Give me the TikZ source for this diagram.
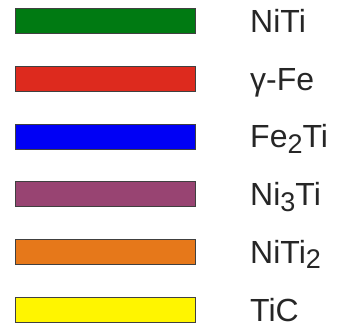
\documentclass[tikz,border=0pt]{standalone}
\usepackage{fontspec}
\setmainfont{Liberation Sans}
\usetikzlibrary{positioning}
\definecolor{phgreen}{HTML}{007A12}
\definecolor{phred}{HTML}{DD2A1E}
\definecolor{phblue}{HTML}{0000F5}
\definecolor{phpurple}{HTML}{984472}
\definecolor{phorange}{HTML}{E6781A}
\definecolor{phyellow}{HTML}{FFF500}
\newcommand{\sub}[1]{\raisebox{-0.32ex}{\fontsize{27}{27}\selectfont #1}}

\begin{document}
\begin{tikzpicture}[
  x=1pt, y=-1pt,
  legbar/.style={draw=black!75, line width=0.8pt, minimum width=180pt, minimum height=25pt, inner sep=0pt},
  leglabel/.style={font=\fontsize{32}{32}\selectfont\color{black!85}, anchor=base west, inner sep=0pt},
]
\useasboundingbox (0,0) rectangle (342,329);
% one bar and one label per phase
\foreach \i/\tag/\col/\name in {
  0/niti/phgreen/{NiTi},
  1/gfe/phred/{γ-Fe},
  2/fetwo/phblue/{Fe\sub{2}Ti},
  3/nithree/phpurple/{Ni\sub{3}Ti},
  4/nitwo/phorange/{NiTi\sub{2}},
  5/tic/phyellow/{TiC}
} {
  \pgfmathsetmacro{\yc}{21 + \i*57.7}
  \node[legbar, fill=\col] (bar-\tag) at (105,\yc) {};
  \node[leglabel] (lab-\tag) at (250,\yc+11.5) {\name};
}
\end{tikzpicture}
\end{document}
